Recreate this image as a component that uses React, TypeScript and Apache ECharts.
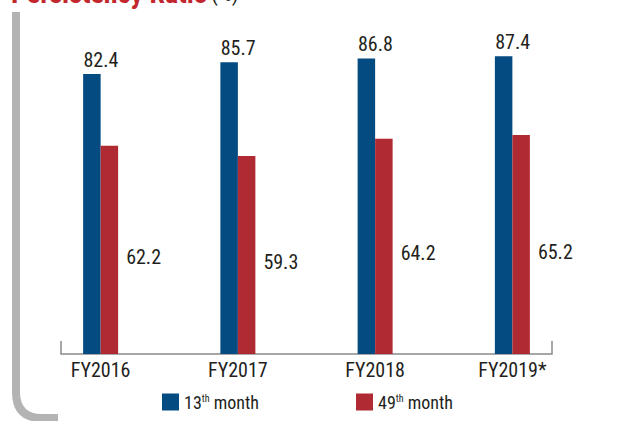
import React, { useEffect, useRef } from "react";
import * as echarts from "echarts";

const categories = ["FY2016", "FY2017", "FY2018", "FY2019*"];
const month13 = [82.4, 85.7, 86.8, 87.4];
const month49 = [62.2, 59.3, 64.2, 65.2];
const seriesNames = ["13th month", "49th month"];
const legendLabels = ["13{sup|th} month", "49{sup|th} month"];

const FONT = '"Liberation Sans Narrow", "Arial Narrow", "Roboto Condensed", sans-serif';
const BLUE = "#034b80";
const RED = "#af2a33";
const TEXT = "#231f20";

export default function App() {
  const ref = useRef<HTMLDivElement>(null);
  useEffect(() => {
    if (!ref.current) return;
    echarts.graphic.registerShape(
      "frameEdge",
      echarts.graphic.extendPath("M16 12 L16 392 Q16 418 42 418 L58 418", {})
    );
    const chart = echarts.init(ref.current, null, { renderer: "svg" });
    chart.setOption({
      animation: false,
      backgroundColor: "#ffffff",
      grid: { left: 32, width: 549, top: 40, height: 314 },
      xAxis: {
        type: "category",
        data: categories,
        axisLine: { show: false },
        axisTick: { show: false },
        axisLabel: { fontFamily: FONT, fontSize: 20, color: TEXT, margin: 6 },
      },
      yAxis: {
        type: "value",
        min: 3.5,
        max: 92,
        show: false,
        splitLine: { show: false },
      },
      legend: {
        left: 162,
        top: 393,
        padding: 0,
        itemWidth: 17,
        itemHeight: 17,
        itemGap: 97,
        icon: "rect",
        data: seriesNames,
        formatter: (name: string) => legendLabels[seriesNames.indexOf(name)],
        textStyle: {
          fontFamily: FONT,
          fontSize: 18,
          color: TEXT,
          rich: {
            sup: { fontFamily: FONT, fontSize: 10, color: TEXT, verticalAlign: "top", padding: [0, 0, 8, 0] },
          },
        },
      },
      series: [
        {
          name: seriesNames[0],
          type: "bar",
          data: month13,
          barWidth: 17.5,
          barGap: "0%",
          itemStyle: { color: BLUE },
          label: {
            show: true,
            position: "top",
            distance: 4,
            offset: [9, 0],
            fontFamily: FONT,
            fontSize: 20,
            color: TEXT,
          },
        },
        {
          name: seriesNames[1],
          type: "bar",
          data: month49,
          barWidth: 17.5,
          barGap: "0%",
          itemStyle: { color: RED },
          label: {
            show: true,
            position: "right",
            distance: 8,
            offset: [0, 7],
            fontFamily: FONT,
            fontSize: 20,
            color: TEXT,
          },
        },
      ],
      graphic: [
        {
          type: "frameEdge",
          x: 0,
          y: 0,
          silent: true,
          style: { fill: "none", stroke: "#b3b3b3", lineWidth: 8 },
        },
        {
          type: "polyline",
          silent: true,
          shape: { points: [[61, 341], [61, 354], [552, 354], [552, 341]] },
          style: { fill: "none", stroke: "#8a8a8a", lineWidth: 1.5 },
        },
        {
          type: "text",
          left: 11,
          top: -21,
          silent: true,
          style: {
            text: "{r|Persistency Ratio} {k|(%)}",
            rich: {
              r: { fontFamily: FONT, fontSize: 28, fontWeight: "bold", fill: "#c1272d" },
              k: { fontFamily: FONT, fontSize: 22, fill: TEXT },
            },
          },
        },
      ],
    });
    return () => chart.dispose();
  }, []);
  return (
    <div
      ref={ref}
      style={{ position: "fixed", left: 0, top: 0, width: 638, height: 421 }}
    />
  );
}
